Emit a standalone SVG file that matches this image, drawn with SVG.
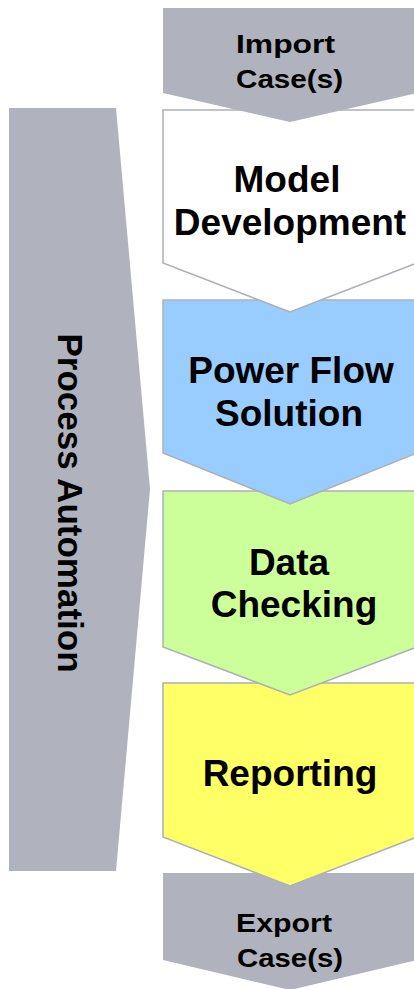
<svg xmlns="http://www.w3.org/2000/svg" width="414" height="989" viewBox="0 0 414 989">
<style>
.t{font-family:"Liberation Sans",Arial,sans-serif;font-weight:bold;fill:#000;}
.big{font-size:37px;text-anchor:middle;}
.sm{font-size:26px;}
.gray{fill:#B0B3BE;}
.step{stroke:#ADB0BA;stroke-width:1.5;}
</style>
<rect width="414" height="989" fill="#fff"/>
<g id="process-automation">
<polygon class="gray" points="9,108 116,108 150,489 116,871 9,871"/>
<text class="t" font-size="35" text-anchor="middle" transform="translate(58,503) rotate(90)">Process Automation</text>
</g>
<g id="connectors"/>
<g id="export">
<polygon class="gray" points="163,873 417,873 417,960 290,990 163,960"/>
<text class="t sm" x="236" y="932" textLength="96" lengthAdjust="spacingAndGlyphs">Export</text>
<text class="t sm" x="237" y="967" textLength="106" lengthAdjust="spacingAndGlyphs">Case(s)</text>
</g>
<g id="reporting">
<polygon class="step" fill="#FFFF66" points="163,683 417,683 417,837 290,886 163,837"/>
<text class="t big" x="290" y="786">Reporting</text>
</g>
<g id="checking">
<polygon class="step" fill="#CCFF99" points="163,491 417,491 417,647 290,695 163,647"/>
<text class="t big" x="289" y="575">Data</text>
<text class="t big" x="294" y="617">Checking</text>
</g>
<g id="powerflow">
<polygon class="step" fill="#99CCFF" points="163,300 417,300 417,453 290,504 163,453"/>
<text class="t big" x="291" y="383">Power Flow</text>
<text class="t big" x="289" y="426">Solution</text>
</g>
<g id="model">
<polygon class="step" fill="#fff" points="163,110 417,110 417,263 290,312 163,263"/>
<text class="t big" x="287" y="192">Model</text>
<text class="t big" x="290" y="235">Development</text>
</g>
<g id="import">
<polygon class="gray" points="163,8 417,8 417,93 290,122 163,93"/>
<text class="t sm" x="236" y="53" textLength="99" lengthAdjust="spacingAndGlyphs">Import</text>
<text class="t sm" x="236" y="88" textLength="107" lengthAdjust="spacingAndGlyphs">Case(s)</text>
</g>
</svg>
